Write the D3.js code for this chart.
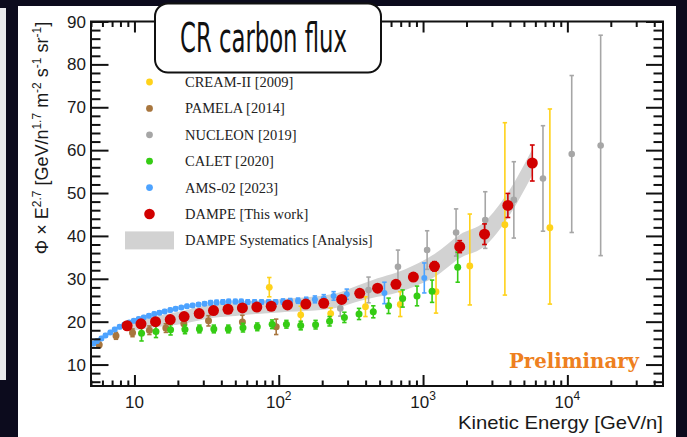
<!DOCTYPE html>
<html>
<head>
<meta charset="utf-8">
<script src="https://cdn.jsdelivr.net/npm/d3@7"></script>
<style>
  html, body { margin: 0; padding: 0; background: #0c0b1d; overflow: hidden; }
</style>
</head>
<body>
<div id="chart"></div>
<script>
//=============================
//  Dados
//=============================
const legendLabels = ["CREAM-II [2009]", "PAMELA [2014]", "NUCLEON [2019]", "CALET [2020]", "AMS-02 [2023]", "DAMPE [This work]", "DAMPE Systematics [Analysis]"];
const xTickLabels = [["10", ""], ["10", "2"], ["10", "3"], ["10", "4"]];
const xMajorTicks = [10, 100, 1000, 10000];
const yMajorTicks = [10, 20, 30, 40, 50, 60, 70, 80, 90];

// DAMPE
const dampeE = [8.9, 11.1, 14.0, 17.7, 22.1, 28.1, 35.3, 44.5, 56, 70.5, 88.7, 115, 154, 205, 273, 364, 484, 649, 857, 1200, 1795, 2667, 3870, 5715];
const dampeV = [19.05, 19.5, 20.0, 20.5, 21.2, 21.9, 22.6, 22.9, 23.2, 23.4, 23.6, 23.9, 24.1, 24.3, 25.2, 26.6, 27.8, 28.7, 30.4, 32.9, 37.5, 40.4, 47.1, 57.0];
const dampeErr = [0.3, 0.3, 0.3, 0.3, 0.3, 0.3, 0.3, 0.3, 0.3, 0.3, 0.3, 0.4, 0.4, 0.5, 0.5, 0.6, 0.7, 0.8, 0.9, 1.1, 1.4, 2.4, 2.8, 4.2];
const bandLow = [17.9, 18.2, 18.7, 19.1, 19.6, 20.3, 20.9, 21.2, 21.5, 21.8, 22.0, 22.3, 22.5, 22.8, 23.5, 24.8, 25.8, 26.7, 28.1, 30.4, 34.8, 37.6, 44.2, 54.2];
const bandHigh = [20.0, 20.6, 21.3, 21.9, 22.6, 23.5, 24.1, 24.4, 24.7, 24.9, 25.1, 25.4, 25.7, 26.1, 27.0, 28.6, 30.1, 31.4, 33.1, 35.8, 40.3, 43.3, 50.1, 60.2];

// AMS-02
const amsE = [5.2, 5.5, 5.9, 6.3, 6.8, 7.3, 7.9, 8.5, 9.2, 9.9, 10.7, 11.6, 12.6, 13.7, 14.9, 16.2, 17.7, 19.3, 21.1, 23.1, 25.3, 27.8, 30.6, 33.7, 37.1, 41, 45, 50, 55, 61, 68, 76, 85, 95, 107, 120, 136, 155, 178, 205, 240, 296, 540, 1020];
const amsV = [14.9, 15.5, 16.1, 16.8, 17.5, 18.2, 18.8, 19.3, 19.8, 20.2, 20.6, 21.0, 21.4, 21.8, 22.1, 22.4, 22.7, 23.0, 23.3, 23.6, 23.8, 24.0, 24.2, 24.4, 24.5, 24.6, 24.7, 24.7, 24.7, 24.6, 24.6, 24.6, 24.6, 24.6, 24.7, 24.8, 24.9, 25.0, 25.2, 25.4, 26.0, 26.4, 26.7, 30.2];
const amsErr = [0.4, 0.4, 0.4, 0.4, 0.4, 0.4, 0.4, 0.4, 0.4, 0.4, 0.4, 0.4, 0.4, 0.4, 0.4, 0.4, 0.4, 0.4, 0.4, 0.4, 0.4, 0.4, 0.4, 0.5, 0.5, 0.5, 0.5, 0.5, 0.5, 0.5, 0.5, 0.5, 0.5, 0.5, 0.6, 0.6, 0.6, 0.7, 0.8, 0.9, 1.0, 1.2, 2.5, 3.5];

// PAMELA
const pamelaE = [5.7, 7.45, 9.7, 12.7, 16.5, 22.0, 32.6, 56, 96];
const pamelaV = [14.6, 16.7, 17.4, 18.0, 18.5, 19.5, 20.2, 19.9, 18.8];
const pamelaErr = [0.6, 0.8, 0.9, 1.0, 1.0, 1.1, 1.2, 1.6, 1.8];

// CALET
const caletE = [11.2, 14.1, 17.8, 22.4, 28.2, 35.5, 44.7, 56.5, 71, 90, 113, 142, 180, 225, 285, 360, 452, 577, 722, 908, 1155, 1738];
const caletV = [17.3, 17.7, 18.1, 18.2, 18.3, 18.3, 18.3, 18.6, 18.8, 19.4, 19.4, 19.1, 19.3, 20.1, 21.0, 21.8, 22.3, 23.7, 25.4, 26.0, 27.1, 32.7];
const caletErr = [1.8, 1.4, 1.2, 1.0, 0.9, 0.9, 0.9, 1.0, 0.9, 1.0, 0.9, 1.0, 1.0, 1.1, 1.2, 1.3, 1.4, 1.8, 2.0, 2.3, 2.6, 3.5];

// NUCLEON
const nucleonE = [267, 419, 670, 1067, 1694, 2697, 4257, 6777, 10720, 17010];
const nucleonV = [23.1, 27.4, 32.8, 36.7, 40.8, 43.7, 48.4, 53.4, 59.1, 61.1];
const nucleonErr = [1.8, 3.0, 3.9, 4.5, 5.5, 6.6, 8.9, 12.3, 18.3, 25.7];

// CREAM-II (erros assimetricos)
const creamE = [86, 142, 229, 399, 695, 1230, 2108, 3690, 7566];
const creamV = [28.0, 21.6, 21.9, 23.5, 24.0, 27.0, 33.0, 42.6, 41.9];
const creamErrLo = [2.2, 2.0, 1.5, 2.3, 2.8, 5.0, 9.1, 16.4, 17.8];
const creamErrHi = [2.3, 2.0, 1.3, 2.3, 3.0, 5.0, 12.1, 23.8, 27.7];

//=============================
//  Atributos gerais
//=============================
const width = 687, height = 437;
const plotLeft = 91, plotRight = 663, plotTop = 21.5, plotBottom = 386;

const svg = d3.select("#chart").append("svg")
  .attr("width", width)
  .attr("height", height)
  .style("display", "block");

// fundo escuro + painel branco
svg.append("rect").attr("width", width).attr("height", height).attr("fill", "#0c0b1d");
svg.append("rect").attr("x", 0).attr("y", 8).attr("width", 6).attr("height", 372).attr("fill", "#e9e9ec");
svg.append("rect").attr("x", 18).attr("y", 6).attr("width", 658).attr("height", 431).attr("fill", "#ffffff");

const x = d3.scaleLog().domain([5, 46000]).range([plotLeft, plotRight]);
const y = d3.scaleLinear().domain([5, 90]).range([plotBottom, plotTop]);

//============Banda sistematica============
const band = dampeE.map((e, i) => ({ e: e, lo: bandLow[i], hi: bandHigh[i] }));
svg.append("path")
  .datum(band)
  .attr("fill", "#d2d2d2")
  .attr("d", d3.area()
    .x(d => x(d.e))
    .y0(d => y(d.lo))
    .y1(d => y(d.hi))
    .curve(d3.curveMonotoneX));

//============Pontos com barras de erro============
function drawSeries(es, vs, lo, hi, color, r, cap) {
  const data = es.map((e, i) => ({ e: e, v: vs[i], lo: vs[i] - lo[i], hi: vs[i] + hi[i] }));
  const g = svg.append("g");
  g.selectAll(".bar").data(data).join("line")
    .attr("x1", d => x(d.e)).attr("x2", d => x(d.e))
    .attr("y1", d => y(d.lo)).attr("y2", d => y(d.hi))
    .attr("stroke", color).attr("stroke-width", 1.6);
  [d => y(d.lo), d => y(d.hi)].forEach(fy => {
    g.selectAll(null).data(data).join("line")
      .attr("x1", d => x(d.e) - cap).attr("x2", d => x(d.e) + cap)
      .attr("y1", fy).attr("y2", fy)
      .attr("stroke", color).attr("stroke-width", 1.6);
  });
  g.selectAll("circle").data(data).join("circle")
    .attr("cx", d => x(d.e)).attr("cy", d => y(d.v))
    .attr("r", r).attr("fill", color);
}

const colors = ["#ffd21a", "#a8763e", "#a6a6a6", "#35cc14", "#4da3ff", "#d10000"];

drawSeries(nucleonE, nucleonV, nucleonErr, nucleonErr, colors[2], 3.3, 2.2);
drawSeries(creamE, creamV, creamErrLo, creamErrHi, colors[0], 3.4, 2.2);
drawSeries(pamelaE, pamelaV, pamelaErr, pamelaErr, colors[1], 3.5, 2.2);
drawSeries(caletE, caletV, caletErr, caletErr, colors[3], 3.5, 2.2);
drawSeries(amsE, amsV, amsErr, amsErr, colors[4], 3.0, 2.2);
drawSeries(dampeE, dampeV, dampeErr, dampeErr, colors[5], 5.5, 2.4);

//============Eixos (ticks para dentro)============
const xMinor = x.ticks().filter(v => !xMajorTicks.includes(v));
const yMinor = d3.range(6, 91, 2).filter(v => !yMajorTicks.includes(v));

function axisStyle(g) {
  g.select(".domain").remove();
  g.selectAll(".tick line").attr("stroke", "#111").attr("stroke-width", 2);
  g.selectAll("text").remove();
}

svg.append("g").attr("transform", `translate(0,${plotBottom})`)
  .call(d3.axisBottom(x).tickValues(xMajorTicks).tickSize(-11)).call(axisStyle);
svg.append("g").attr("transform", `translate(0,${plotBottom})`)
  .call(d3.axisBottom(x).tickValues(xMinor).tickSize(-5.5)).call(axisStyle);
svg.append("g").attr("transform", `translate(0,${plotTop})`)
  .call(d3.axisTop(x).tickValues(xMajorTicks).tickSize(-11)).call(axisStyle);
svg.append("g").attr("transform", `translate(0,${plotTop})`)
  .call(d3.axisTop(x).tickValues(xMinor).tickSize(-5.5)).call(axisStyle);

svg.append("g").attr("transform", `translate(${plotLeft},0)`)
  .call(d3.axisLeft(y).tickValues(yMajorTicks).tickSize(-17.5)).call(axisStyle);
svg.append("g").attr("transform", `translate(${plotLeft},0)`)
  .call(d3.axisLeft(y).tickValues(yMinor).tickSize(-9.5)).call(axisStyle);
svg.append("g").attr("transform", `translate(${plotRight},0)`)
  .call(d3.axisRight(y).tickValues(yMajorTicks).tickSize(-17)).call(axisStyle);
svg.append("g").attr("transform", `translate(${plotRight},0)`)
  .call(d3.axisRight(y).tickValues(yMinor).tickSize(-9.5)).call(axisStyle);

// moldura
svg.append("rect")
  .attr("x", plotLeft).attr("y", plotTop)
  .attr("width", plotRight - plotLeft).attr("height", plotBottom - plotTop)
  .attr("fill", "none").attr("stroke", "#111").attr("stroke-width", 2);

// labels do eixo Y
svg.append("g").selectAll("text").data(yMajorTicks).join("text")
  .attr("x", 86).attr("y", d => y(d) + 6)
  .attr("text-anchor", "end")
  .style("font-family", "Liberation Sans, Arial, sans-serif")
  .style("font-size", "17px")
  .attr("fill", "#1a1a1a")
  .text(d => d);

// labels do eixo X (com expoente)
xMajorTicks.forEach((v, i) => {
  const t = svg.append("text")
    .attr("x", x(v)).attr("y", 408)
    .attr("text-anchor", "middle")
    .style("font-family", "Liberation Sans, Arial, sans-serif")
    .style("font-size", "17px")
    .attr("fill", "#1a1a1a");
  t.append("tspan").text(xTickLabels[i][0]);
  if (xTickLabels[i][1]) {
    t.append("tspan").attr("dy", -8).style("font-size", "12px").text(xTickLabels[i][1]);
  }
});

// titulo eixo X
svg.append("text")
  .attr("x", 663).attr("y", 429)
  .attr("text-anchor", "end")
  .attr("textLength", 205).attr("lengthAdjust", "spacingAndGlyphs")
  .style("font-family", "Liberation Sans, Arial, sans-serif")
  .style("font-size", "18.5px")
  .attr("fill", "#1a1a1a")
  .text("Kinetic Energy [GeV/n]");

// titulo eixo Y
const yl = svg.append("text")
  .attr("transform", "translate(48,138) rotate(-90)")
  .attr("text-anchor", "middle")
  .style("font-family", "Liberation Sans, Arial, sans-serif")
  .style("font-size", "18px")
  .attr("fill", "#1a1a1a");
const ylParts = [["Φ × E", 0], ["2.7", 1], [" [GeV/n", 0], ["1.7", 1], [" m", 0], ["-2", 1], [" s", 0], ["-1", 1], [" sr", 0], ["-1", 1], ["]", 0]];
let prevSup = 0;
ylParts.forEach(p => {
  const ts = yl.append("tspan").text(p[0]);
  if (p[1] !== prevSup) ts.attr("dy", p[1] ? -7 : 7);
  if (p[1]) ts.style("font-size", "12px");
  prevSup = p[1];
});

//============Legenda============
const legY = d3.range(7).map(i => 82 + i * 26.4);
const legR = [3.4, 3.4, 3.4, 3.4, 3.4, 5.3];
legR.forEach((r, i) => {
  svg.append("circle").attr("cx", 149.5).attr("cy", legY[i]).attr("r", r).attr("fill", colors[i]);
});
svg.append("rect").attr("x", 125).attr("y", legY[6] - 9).attr("width", 49).attr("height", 18).attr("fill", "#d2d2d2");
svg.append("g").selectAll("text").data(legendLabels).join("text")
  .attr("x", 185).attr("y", (d, i) => legY[i] + 5)
  .style("font-family", "Liberation Serif, Times New Roman, serif")
  .style("font-size", "14.5px")
  .attr("fill", "#222")
  .text(d => d);

// Preliminary
svg.append("text")
  .attr("x", 509).attr("y", 368)
  .attr("textLength", 130).attr("lengthAdjust", "spacingAndGlyphs")
  .style("font-family", "DejaVu Serif, serif")
  .style("font-weight", "bold")
  .style("font-size", "21px")
  .attr("fill", "#ee8020")
  .text("Preliminary");

//============Caixa do titulo============
svg.append("rect")
  .attr("x", 155).attr("y", 3.5).attr("width", 226).attr("height", 69).attr("rx", 13)
  .attr("fill", "#fff").attr("stroke", "#111").attr("stroke-width", 2);
svg.append("text")
  .attr("x", 180).attr("y", 52)
  .attr("textLength", 167).attr("lengthAdjust", "spacingAndGlyphs")
  .style("font-family", "Liberation Sans Narrow, DejaVu Sans Condensed, sans-serif")
  .style("font-size", "40px")
  .attr("fill", "#111")
  .text("CR carbon flux");
</script>
</body>
</html>
